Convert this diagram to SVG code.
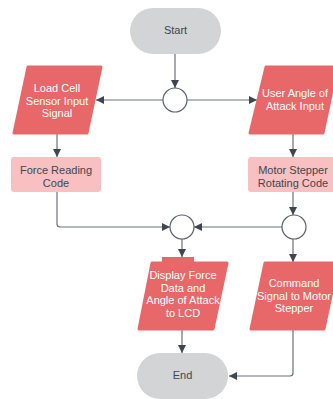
<svg xmlns="http://www.w3.org/2000/svg" width="333" height="399" viewBox="0 0 333 399">
<style>
.term{fill:#d3d4d6}
.io{fill:#e8686a;stroke:#e8686a;stroke-width:3;stroke-linejoin:round}
.proc{fill:#f8c0c0}
.junc{fill:#fff;stroke:#5c636b;stroke-width:1.2}
.ln{fill:none;stroke:#6b7178;stroke-width:1.2;marker-end:url(#ah)}
.tw{font-family:"Liberation Sans",Arial,sans-serif;font-size:11px;fill:#fff;text-anchor:middle}
.td{font-family:"Liberation Sans",Arial,sans-serif;font-size:11px;fill:#3f4650;text-anchor:middle}
</style>
<defs>
<marker id="ah" viewBox="0 0 10 10" refX="10" refY="5" markerWidth="8" markerHeight="8" markerUnits="userSpaceOnUse" orient="auto">
<path d="M0,0 L10,5 L0,10 z" fill="#3f4650"/>
</marker>
</defs>
<rect width="333" height="399" fill="#fff"/>
<g id="connectors">
<path class="ln" d="M175,54 V88"/>
<path class="ln" d="M163,100 H96"/>
<path class="ln" d="M187,100 H257"/>
<path class="ln" d="M57,134 V157"/>
<path class="ln" d="M293,134 V157"/>
<path class="ln" d="M57,192 V224 Q57,227 60,227 H170"/>
<path class="ln" d="M293,192 V215"/>
<path class="ln" d="M282,227 H194"/>
<path class="ln" d="M182,239 V257"/>
<path class="ln" d="M293,239 V262"/>
<path class="ln" d="M182,330 V353"/>
<path class="ln" d="M293,330 V373 Q293,376 290,376 H229"/>
</g>
<g id="start">
<rect class="term" x="130" y="8" width="91" height="46" rx="23"/>
<text class="td" x="175.5" y="34">Start</text>
</g>
<g id="split">
<circle class="junc" cx="175" cy="100" r="12"/>
</g>
<g id="load-cell">
<polygon class="io" points="28,67 101,67 87,133 14,133"/>
<text class="tw" x="57" y="92">Load Cell</text>
<text class="tw" x="57" y="104.5">Sensor Input</text>
<text class="tw" x="57" y="117">Signal</text>
</g>
<g id="user-angle">
<polygon class="io" points="266,67 337,67 323,133 250,133"/>
<text class="tw" x="295" y="97">User Angle of</text>
<text class="tw" x="295" y="109.5">Attack Input</text>
</g>
<g id="force-reading">
<rect class="proc" x="11" y="157" width="90" height="35" rx="3"/>
<text class="td" x="56" y="174">Force Reading</text>
<text class="td" x="56" y="187">Code</text>
</g>
<g id="motor-stepper">
<rect class="proc" x="248" y="157" width="90" height="35" rx="3"/>
<text class="td" x="293" y="174">Motor Stepper</text>
<text class="td" x="293" y="187">Rotating Code</text>
</g>
<g id="merge">
<circle class="junc" cx="182" cy="227" r="12"/>
</g>
<g id="split2">
<circle class="junc" cx="294" cy="227" r="12"/>
</g>
<g id="display">
<rect x="162" y="257" width="32" height="8" fill="#e8686a"/>
<polygon class="io" points="152,263 227,263 213,329 139,329"/>
<text class="tw" x="183" y="279">Display Force</text>
<text class="tw" x="183" y="291.5">Data and</text>
<text class="tw" x="183" y="304">Angle of Attack</text>
<text class="tw" x="183" y="316.5">to LCD</text>
</g>
<g id="command">
<polygon class="io" points="265,263 338,263 324,329 251,329"/>
<text class="tw" x="294" y="287">Command</text>
<text class="tw" x="294" y="299.5">Signal to Motor</text>
<text class="tw" x="294" y="312">Stepper</text>
</g>
<g id="end">
<rect class="term" x="137" y="353" width="91" height="46" rx="23"/>
<text class="td" x="182.5" y="379">End</text>
</g>
</svg>
